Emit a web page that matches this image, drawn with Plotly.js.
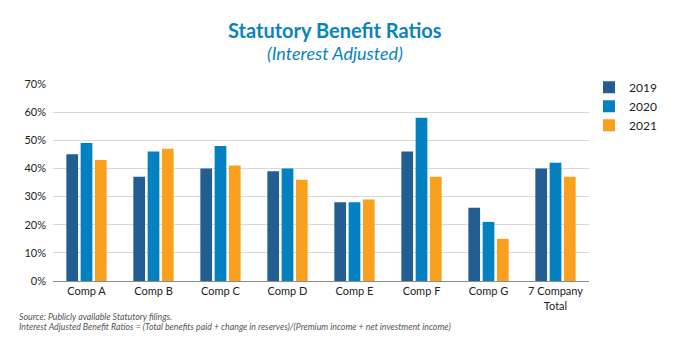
<!DOCTYPE html>
<html>
<head>
<meta charset="utf-8">
<script src="https://cdn.plot.ly/plotly-3.0.1.min.js"></script>
<style>html,body{margin:0;padding:0;background:#fff;}#chart{width:674px;height:350px;}</style>
</head>
<body>
<div id="chart"></div>
<script>
const categories = ["Comp A", "Comp B", "Comp C", "Comp D", "Comp E", "Comp F", "Comp G", "7 Company<br>Total"];
const years = ["2019", "2020", "2021"];
const values2019 = [0.45, 0.37, 0.40, 0.39, 0.28, 0.46, 0.26, 0.40];
const values2020 = [0.49, 0.46, 0.48, 0.40, 0.28, 0.58, 0.21, 0.42];
const values2021 = [0.43, 0.47, 0.41, 0.36, 0.29, 0.37, 0.15, 0.37];
const tickVals = [0, 0.1, 0.2, 0.3, 0.4, 0.5, 0.6, 0.7];
const tickText = ["0%", "10%", "20%", "30%", "40%", "50%", "60%", "70%"];
const colors = ["#225E91", "#0280BF", "#F9A01E"];

const series = [values2019, values2020, values2021];
const traces = series.map((v, i) => ({
  type: "bar",
  name: years[i],
  x: categories,
  y: v,
  marker: {color: colors[i]},
  hoverinfo: "none"
}));

const layout = {
  width: 674, height: 350,
  margin: {l: 53, r: 81, t: 84, b: 69},
  paper_bgcolor: "#fff", plot_bgcolor: "#fff",
  font: {family: "Lato, 'Open Sans', sans-serif", size: 11, color: "#222"},
  barmode: "group",
  bargap: 0.36,
  bargroupgap: 0.18,
  showlegend: true,
  legend: {x: 1.0, y: 1.057, xanchor: "left", yanchor: "top", xref: "paper", yref: "paper",
           font: {size: 12, color: "#222"}, itemwidth: 30, tracegroupgap: 4},
  xaxis: {
    showgrid: false, showline: true, linecolor: "#8c8c8c", linewidth: 1,
    ticks: "", tickfont: {size: 11, color: "#222"}, fixedrange: true
  },
  yaxis: {
    range: [0, 0.7], tickvals: tickVals, ticktext: tickText,
    showgrid: true, gridcolor: "#d9d9d9", gridwidth: 1, zeroline: false,
    showline: false, ticks: "", tickfont: {size: 11, color: "#222"}, fixedrange: true,
    ticklabelstandoff: 6
  },
  annotations: [
    {text: "<b>Statutory Benefit Ratios</b>", xref: "paper", yref: "paper", x: 0.5, y: 0, xanchor: "center", yanchor: "middle",
     showarrow: false, font: {size: 20, color: "#0A83C2", family: "Lato, sans-serif"}},
    {text: "<i>(Interest Adjusted)</i>", xref: "paper", yref: "paper", x: 0.5, y: 0, xanchor: "center", yanchor: "middle",
     showarrow: false, font: {size: 18, color: "#0A83C2", family: "Lato, sans-serif"}},
    {text: "<i>Source: Publicly available Statutory filings.</i>", xref: "paper", yref: "paper", x: 0, y: 0, xanchor: "left", yanchor: "middle",
     showarrow: false, font: {size: 8.8, color: "#555"}},
    {text: "<i>Interest Adjusted Benefit Ratios = (Total benefits paid + change in reserves)/(Premium income + net investment income)</i>", xref: "paper", yref: "paper", x: 0, y: 0, xanchor: "left", yanchor: "middle",
     showarrow: false, font: {size: 8.8, color: "#555"}}
  ]
};

const plotH = 350 - 84 - 69, plotW = 674 - 53 - 81;
function py(pix) { return (350 - 69 - pix) / plotH; }
function px(pix) { return (pix - 53) / plotW; }
layout.annotations[0].x = px(337); layout.annotations[0].y = py(30);
layout.annotations[1].x = px(337); layout.annotations[1].y = py(53);
layout.annotations[2].x = px(17); layout.annotations[2].y = py(316);
layout.annotations[3].x = px(17); layout.annotations[3].y = py(326);

Plotly.newPlot("chart", traces, layout, {displayModeBar: false, staticPlot: true});
</script>
</body>
</html>
